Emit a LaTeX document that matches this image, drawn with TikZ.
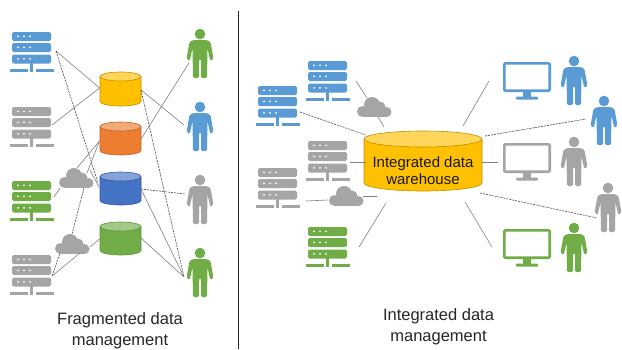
\documentclass[tikz,border=0pt]{standalone}
\usepackage{fontspec}
\setmainfont{Liberation Sans}
\definecolor{cblue}{HTML}{5B9BD5}
\definecolor{cgray}{HTML}{A5A5A5}
\definecolor{cgreen}{HTML}{70AD47}
\definecolor{corange}{HTML}{ED7D31}
\definecolor{cyellow}{HTML}{FFC000}
\definecolor{cdblue}{HTML}{4472C4}
\tikzset{
 anchorbox/.style={inner sep=0pt,outer sep=0pt,minimum width=#1},
 lnk/.style={draw=black!50,line width=0.6pt},
 dlnk/.style={draw=black!70,line width=0.6pt,dash pattern=on 2pt off 1pt},
 caption/.style={align=center,font=\fontsize{16.5}{20.5}\selectfont,text=black!85,inner sep=0pt},
 cyltext/.style={align=center,font=\fontsize{15}{17}\selectfont,text=black!90,inner sep=0pt}
}
% name, x, y (top left), colour
\newcommand{\srv}[4]{\begin{scope}[shift={(#2,#3)}]
 \foreach \rowy in {0,11,22.5}{
  \fill[#4,rounded corners=1.6pt] (0,\rowy) rectangle (39,\rowy+9);
  \foreach \dotx in {6,12,18}{\fill[white] (\dotx,\rowy+4.3) circle (1.0);}
 }
 \fill[#4] (18,31) rectangle (21,37);
 \fill[#4] (-2,37) rectangle (16,40);
 \fill[#4] (18,37) rectangle (21,40);
 \fill[#4] (24,37) rectangle (42,40);
 \node[anchorbox=39pt,minimum height=40pt] (#1) at (19.5,20) {};
\end{scope}}
% name, centre x, top y, colour
\newcommand{\person}[4]{\begin{scope}[shift={(#2,#3)}]
 \fill[#4] (0,5) circle (5.3);
 \fill[#4,rounded corners=1.5pt] (-7,11) -- (7,11) -- (10.5,13) -- (13.5,30) -- (10.3,32) -- (7.5,19.5) -- (7,49) -- (1,49) -- (1,30) -- (-1,30) -- (-1,49) -- (-7,49) -- (-7.5,19.5) -- (-10.3,32) -- (-13.5,30) -- (-10.5,13) -- cycle;
 \node[anchorbox=26pt,minimum height=49pt] (#1) at (0,24.5) {};
\end{scope}}
% name, left x, top y
\newcommand{\cloudshape}[3]{\begin{scope}[shift={(#2,#3)}]
 \fill[cgray] (6.5,14.5) circle (5.5);
 \fill[cgray] (16,8) circle (8);
 \fill[cgray] (24,10) circle (5.5);
 \fill[cgray] (30.5,15) circle (5);
 \fill[cgray] (6.5,12) rectangle (30.5,20);
 \node[anchorbox=36pt,minimum height=20pt] (#1) at (18,10) {};
\end{scope}}
% name, left x, top y, colour
\newcommand{\monitor}[4]{\begin{scope}[shift={(#2,#3)}]
 \draw[#4,line width=2.6pt,rounded corners=1pt] (1.3,1.3) rectangle (46.7,28.7);
 \fill[#4] (20,30) rectangle (28,35);
 \fill[#4,rounded corners=1pt] (13,34.5) rectangle (35,37.5);
 \node[anchorbox=48pt,minimum height=37pt] (#1) at (24,18.5) {};
\end{scope}}
% name, x1, ytop, x2, ybottom, ry, body, top, edge, text
\newcommand{\cyl}[9]{\def\nm{#1}\def\xa{#2}\def\yt{#3}\def\xb{#4}\def\yb{#5}\def\cry{#6}\def\cb{#7}\def\ct{#8}\def\ce{#9}\cylrest}
\newcommand{\cylrest}[1]{
 \pgfmathsetmacro{\crx}{(\xb-\xa)/2}
 \pgfmathsetmacro{\xm}{(\xa+\xb)/2}
 \pgfmathsetmacro{\yh}{\yt+\cry}
 \pgfmathsetmacro{\yl}{\yb-\cry}
 \pgfmathsetmacro{\ym}{(\yt+\yb)/2}
 \fill[\cb] (\xa,\yh) -- (\xa,\yl) arc[start angle=180,end angle=360,x radius=\crx,y radius=-\cry] -- (\xb,\yh) -- cycle;
 \draw[\ce,line width=0.6pt] (\xa,\yh) -- (\xa,\yl) arc[start angle=180,end angle=360,x radius=\crx,y radius=-\cry] -- (\xb,\yh);
 \draw[draw=\ce,fill=\ct,line width=0.6pt] (\xm,\yh) ellipse[x radius=\crx,y radius=\cry];
 \coordinate (\nm) at (\xm,\ym);
 \node[cyltext] (\nm text) at (\xm,\ym+9.5) {#1};
}
\begin{document}
\begin{tikzpicture}[x=1pt,y=-1pt]
\useasboundingbox (0,0) rectangle (622,349);
\fill[white] (0,0) rectangle (622,349);

% ---- objects, left panel
\srv{sa}{12}{32}{cblue}
\srv{sb}{12}{107}{cgray}
\srv{sc}{12}{181}{cgreen}
\srv{sd}{12}{255}{cgray}
\cyl{cya}{100}{72}{141}{106}{4.5}{cyellow}{cyellow!65!white}{cyellow!75!black}{}
\cyl{cyb}{100}{122}{141}{155}{4.5}{corange}{corange!65!white}{corange!80!black}{}
\cyl{cyc}{100}{172}{141}{205}{4.5}{cdblue}{cdblue!65!white}{cdblue!80!black}{}
\cyl{cyd}{100}{222}{141}{255}{4.5}{cgreen}{cgreen!65!white}{cgreen!85!black}{}
\person{pa}{200}{29}{cgreen}
\person{pb}{200}{102}{cblue}
\person{pc}{200}{175}{cgray}
\person{pd}{200}{248}{cgreen}
\cloudshape{cla}{58}{168}
\cloudshape{clb}{54}{234}
\node[caption] (capa) at (120,330.5) {Fragmented data\\management};

% ---- divider
\coordinate (diva) at (238.3,11);
\coordinate (divb) at (238.3,349);
\draw[black!85,line width=1pt] (diva) -- (divb);

% ---- objects, right panel
\srv{se}{308}{61}{cblue}
\srv{sf}{258}{86}{cblue}
\srv{sg}{308}{141}{cgray}
\srv{sh}{258}{168}{cgray}
\srv{si}{308}{227}{cgreen}
\cloudshape{clc}{356}{97}
\cloudshape{cld}{328}{186}
\cyl{cyw}{364}{131}{482}{191}{8}{cyellow}{cyellow!65!white}{cyellow!75!black}{Integrated data\\warehouse}
\monitor{ma}{503}{62}{cblue}
\monitor{mb}{503}{143}{cgray}
\monitor{mc}{503}{229}{cgreen}
\person{pe}{574}{56}{cblue}
\person{pf}{604}{96}{cblue}
\person{pg}{574}{137}{cgray}
\person{ph}{608}{183}{cgray}
\person{pi}{574}{223}{cgreen}
\node[caption] (capb) at (438.5,326.5) {Integrated data\\management};

% ---- connectors, left panel
\draw[lnk] ([shift={(24.5,-1)}]sa.center) -- ([shift={(-21,-1)}]cya);
\draw[dlnk] ([shift={(24.5,-1)}]sa.center) -- ([shift={(-22.5,-5.5)}]cyc);
\draw[lnk] ([shift={(20.5,-2)}]sb.center) -- ([shift={(-21,-1)}]cya);
\draw[lnk] ([shift={(22.5,-4)}]sc.center) -- ([shift={(-16,10)}]cla.center);
\draw[lnk] ([shift={(1,-10)}]cla.center) -- ([shift={(-21,2.5)}]cyb);
\draw[lnk] ([shift={(11,-5)}]cla.center) -- ([shift={(-21,2.5)}]cyb);
\draw[lnk] ([shift={(14,-8)}]cla.center) -- ([shift={(-21.5,-1.5)}]cyc);
\draw[dlnk] ([shift={(8,10)}]cla.center) -- ([shift={(0,-10)}]clb.center);
\draw[dlnk] ([shift={(20.5,1)}]sd.center) -- ([shift={(-12,9)}]clb.center);
\draw[lnk] ([shift={(20.5,1)}]sd.center) -- ([shift={(8,9)}]clb.center);
\draw[lnk] ([shift={(18,3)}]clb.center) -- ([shift={(-21,0.5)}]cyd);
\draw[lnk] ([shift={(20.5,1)}]cya) -- ([shift={(-16,-1.5)}]pb.center);
\draw[dlnk] ([shift={(20.5,1)}]cya) -- ([shift={(-16,4.5)}]pd.center);
\draw[lnk] ([shift={(20.5,0.5)}]cyb) -- ([shift={(-11,9.5)}]pa.center);
\draw[dlnk] ([shift={(20.5,0.5)}]cyc) -- ([shift={(-15,-5.5)}]pc.center);
\draw[lnk] ([shift={(20.5,0.5)}]cyc) -- ([shift={(-16,4.5)}]pd.center);
\draw[lnk] ([shift={(20.5,-0.5)}]cyd) -- ([shift={(-16,4.5)}]pd.center);

% ---- connectors, right panel
\draw[lnk] ([shift={(28.5,0)}]se.center) -- ([shift={(-7,-9)}]clc.center);
\draw[lnk] ([shift={(4,10)}]clc.center) -- ([shift={(-39,-34)}]cyw);
\draw[dlnk] ([shift={(22.5,6)}]sf.center) -- ([shift={(-57,-26)}]cyw);
\draw[lnk] ([shift={(22.5,1)}]sg.center) -- ([shift={(-57,1)}]cyw);
\draw[lnk] ([shift={(28.5,13)}]sh.center) -- ([shift={(-18,4)}]cld.center);
\draw[lnk] ([shift={(17,0)}]cld.center) -- ([shift={(-46,35)}]cyw);
\draw[lnk] ([shift={(31.5,0)}]si.center) -- ([shift={(-37,42)}]cyw);
\draw[lnk] ([shift={(40,-35)}]cyw) -- ([shift={(-38,0.5)}]ma.center);
\draw[dlnk] ([shift={(62,-25)}]cyw) -- ([shift={(-18,-1.5)}]pf.center);
\draw[lnk] ([shift={(59,1)}]cyw) -- ([shift={(-29,0.5)}]mb.center);
\draw[dlnk] ([shift={(57,32)}]cyw) -- ([shift={(-11,10.5)}]ph.center);
\draw[lnk] ([shift={(42,41)}]cyw) -- ([shift={(-35,-0.5)}]mc.center);
\end{tikzpicture}
\end{document}
